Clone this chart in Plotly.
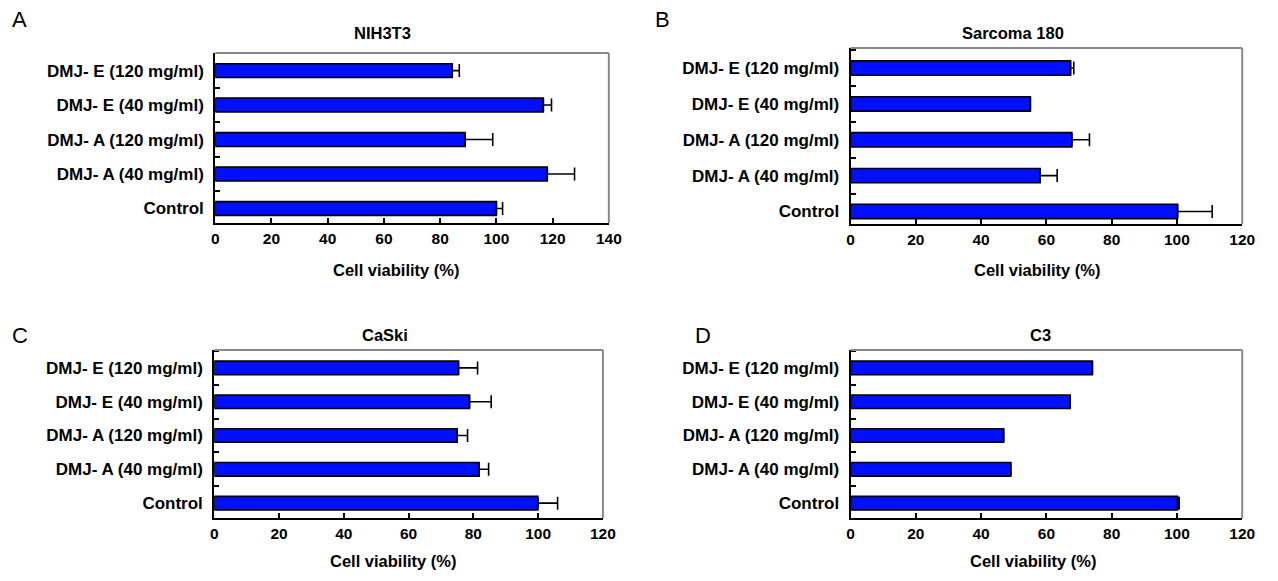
import plotly.graph_objects as go

# ---------------- data ----------------
categories = ["Control", "DMJ- A (40 mg/ml)", "DMJ- A (120 mg/ml)",
              "DMJ- E (40 mg/ml)", "DMJ- E (120 mg/ml)"]
panel_letters = ["A", "B", "C", "D"]
panel_titles = ["NIH3T3", "Sarcoma 180", "CaSki", "C3"]

nih3t3_values = [100.0, 118.1, 88.9, 116.7, 84.3]
nih3t3_errors = [2.2, 9.7, 9.8, 2.9, 2.5]
sarcoma_values = [100.2, 58.1, 67.8, 55.1, 67.4]
sarcoma_errors = [10.6, 5.2, 5.4, 0.0, 1.0]
caski_values = [99.9, 81.8, 75.0, 78.8, 75.4]
caski_errors = [6.1, 2.9, 3.2, 6.7, 5.9]
c3_values = [100.2, 49.1, 46.9, 67.3, 74.1]
c3_errors = [0.5, 0.0, 0.0, 0.0, 0.0]

x_max = [140, 120, 120, 120]
x_tick_step = 20
x_title = "Cell viability (%)"

# ---------------- layout geometry ----------------
PAGE_W, PAGE_H = 1278, 581
BODY_MARGIN = 8          # default page margin around the plot div
W, H = PAGE_W - 2 * BODY_MARGIN, PAGE_H - 2 * BODY_MARGIN
FONT = "Liberation Sans"
BAR_COLOR = "#0010FF"


def px_x(v):
    return (v - BODY_MARGIN) / W


def px_y(v):
    return 1 - (v - BODY_MARGIN) / H


# plot frames in page pixels: (left, right, top, bottom)
frames = [(214, 613, 53, 223), (858, 1255, 48, 224),
          (213, 607, 350, 518), (858, 1255, 350, 518)]
y_ranges = [[-0.42, 4.51], [-0.35, 4.56], [-0.44, 4.53], [-0.44, 4.53]]
letter_pos = [(16, 20), (667, 20), (16, 335), (708, 335)]
title_pos = [(384, 33), (1023, 33), (386, 335), (1051, 335)]
xtitle_pos = [(398, 270), (1047, 270), (395, 561), (1043, 561)]

values = [nih3t3_values, sarcoma_values, caski_values, c3_values]
errors = [nih3t3_errors, sarcoma_errors, caski_errors, c3_errors]

fig = go.Figure()
annotations = []
shapes = []
layout_axes = {}

for i in range(4):
    sfx = "" if i == 0 else str(i + 1)
    xa, ya = "x" + sfx, "y" + sfx
    fig.add_trace(go.Bar(
        x=values[i], y=categories, orientation="h",
        xaxis=xa, yaxis=ya, width=0.4,
        marker=dict(color=BAR_COLOR, line=dict(color="black", width=1.6)),
        error_x=dict(type="data", symmetric=False, array=errors[i],
                     arrayminus=[0] * len(errors[i]),
                     color="black", thickness=1.6, width=6.5),
        showlegend=False,
    ))
    l, r, t, b = frames[i]
    layout_axes["xaxis" + sfx] = dict(
        domain=[px_x(l), px_x(r)], anchor=ya, range=[0, x_max[i]],
        tickmode="linear", tick0=0, dtick=x_tick_step,
        ticks="inside", ticklen=5, tickwidth=1.5, tickcolor="black",
        showline=True, linecolor="black", linewidth=2,
        showgrid=False, zeroline=False,
        tickfont=dict(family=FONT, size=15.5, color="black", weight="bold"),
        ticklabelstandoff=0, fixedrange=True,
    )
    layout_axes["yaxis" + sfx] = dict(
        domain=[px_y(b), px_y(t)], anchor=xa, type="category",
        categoryorder="array", categoryarray=categories,
        range=y_ranges[i], tickson="boundaries",
        ticks="inside", ticklen=5, tickwidth=1.5, tickcolor="black",
        showline=True, linecolor="black", linewidth=2,
        showgrid=False, zeroline=False,
        tickfont=dict(family=FONT, size=17, color="black", weight="bold"),
        ticklabelstandoff=6, fixedrange=True,
    )
    # grey top and right frame edges
    shapes.append(dict(type="line", xref=xa + " domain", yref=ya + " domain",
                       x0=0, x1=1, y0=1, y1=1,
                       line=dict(color="#888888", width=2), layer="above"))
    shapes.append(dict(type="line", xref=xa + " domain", yref=ya + " domain",
                       x0=1, x1=1, y0=0, y1=1,
                       line=dict(color="#888888", width=2), layer="above"))
    annotations.append(dict(text=panel_letters[i], x=px_x(letter_pos[i][0]),
                            y=px_y(letter_pos[i][1]), xref="paper", yref="paper",
                            showarrow=False, xanchor="center", yanchor="middle",
                            font=dict(family=FONT, size=22, color="black")))
    annotations.append(dict(text=panel_titles[i], x=px_x(title_pos[i][0]),
                            y=px_y(title_pos[i][1]), xref="paper", yref="paper",
                            showarrow=False, xanchor="center", yanchor="middle",
                            font=dict(family=FONT, size=16.5, color="black", weight="bold")))
    annotations.append(dict(text=x_title, x=px_x(xtitle_pos[i][0]),
                            y=px_y(xtitle_pos[i][1]), xref="paper", yref="paper",
                            showarrow=False, xanchor="center", yanchor="middle",
                            borderpad=0,
                            font=dict(family=FONT, size=16.5, color="black", weight="bold")))

fig.update_layout(
    width=W, height=H, margin=dict(l=0, r=0, t=0, b=0),
    paper_bgcolor="white", plot_bgcolor="white",
    annotations=annotations, shapes=shapes, bargap=0.6,
    **layout_axes,
)

fig.write_html("out.html")
